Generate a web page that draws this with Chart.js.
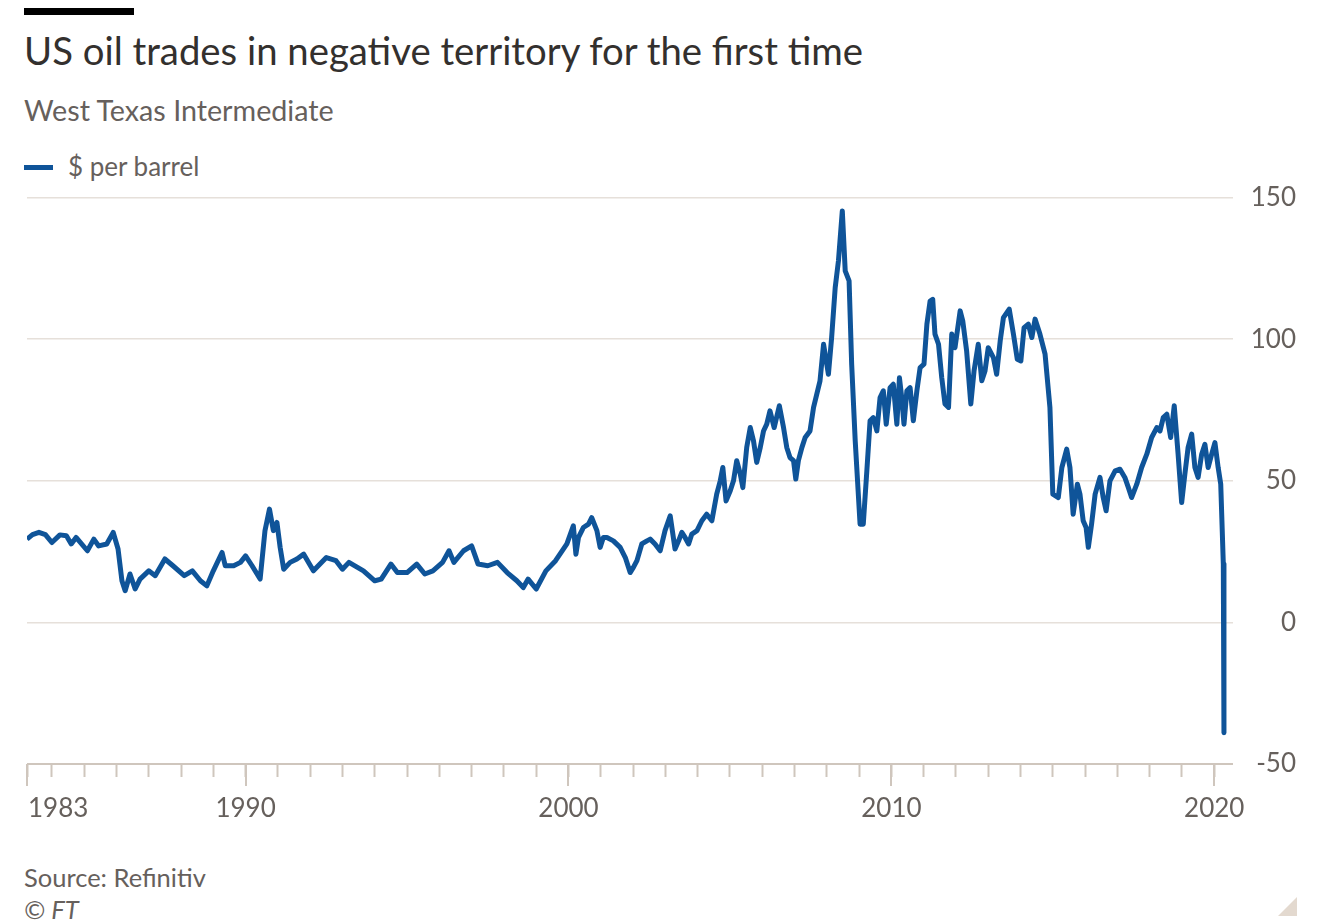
<!DOCTYPE html>
<html>
<head>
<meta charset="utf-8">
<title>US oil trades in negative territory for the first time</title>
<script src="https://cdn.jsdelivr.net/npm/chart.js@4.4.0/dist/chart.umd.min.js"></script>
<style>
  body { margin: 0; background: #fff; width: 1336px; height: 921px; overflow: hidden; position: relative; font-family: Lato, sans-serif; }
  .bar { position: absolute; left: 24px; top: 8px; width: 110px; height: 7px; background: #000; }
  .title { position: absolute; left: 24px; top: 31px; font-size: 38.3px; line-height: 38.3px; color: #33302e; white-space: nowrap; }
  .subtitle { position: absolute; left: 24px; top: 96px; font-size: 28.7px; line-height: 28.7px; color: #66605c; white-space: nowrap; }
  .swatch { position: absolute; left: 24px; top: 165px; width: 29px; height: 5px; background: #0f5499; }
  .legend { position: absolute; left: 68px; top: 153px; font-size: 26px; line-height: 26px; color: #66605c; white-space: nowrap; }
  .source { position: absolute; left: 24px; top: 865px; font-size: 25.5px; line-height: 25.5px; color: #66605c; white-space: nowrap; }
  .copy { position: absolute; left: 24px; top: 897px; font-size: 25.5px; line-height: 25.5px; color: #66605c; font-style: italic; }
  .grip { position: absolute; left: 1278px; top: 897px; width: 0; height: 0; border-left: 19px solid transparent; border-bottom: 19px solid #e3d9cf; }
  #wrap { position: absolute; left: 0; top: 164px; width: 1336px; height: 676px; }
  #wrap canvas { display: block; }
</style>
</head>
<body>
<div class="bar"></div>
<div class="title">US oil trades in negative territory for the first time</div>
<div class="subtitle">West Texas Intermediate</div>
<div class="swatch"></div>
<div class="legend">$ per barrel</div>
<div id="wrap"><canvas id="oilChart" width="1336" height="676"></canvas></div>
<div class="source">Source: Refinitiv</div>
<div class="copy">© FT</div>
<div class="grip"></div>

<script>
// WTI, $ per barrel (decimal years)
const dates = [
  1983.23, 1983.4, 1983.6, 1983.8, 1984.0, 1984.25, 1984.45, 1984.6, 1984.75, 1985.1,
  1985.3, 1985.45, 1985.7, 1985.9, 1986.05, 1986.17, 1986.27, 1986.42, 1986.58, 1986.73,
  1987.0, 1987.2, 1987.5, 1987.75, 1988.1, 1988.35, 1988.6, 1988.8, 1989.0, 1989.27,
  1989.37, 1989.63, 1989.84, 1990.0, 1990.2, 1990.45, 1990.6, 1990.74, 1990.86, 1990.97,
  1991.07, 1991.18, 1991.38, 1991.59, 1991.8, 1992.1, 1992.5, 1992.8, 1993.0, 1993.2,
  1993.65, 1994.0, 1994.2, 1994.5, 1994.7, 1995.0, 1995.3, 1995.55, 1995.8, 1996.1,
  1996.3, 1996.45, 1996.75, 1997.0, 1997.2, 1997.5, 1997.8, 1998.1, 1998.4, 1998.6,
  1998.75, 1999.0, 1999.3, 1999.6, 1999.95, 2000.15, 2000.23, 2000.31, 2000.46, 2000.62,
  2000.72, 2000.88, 2000.98, 2001.08, 2001.19, 2001.39, 2001.6, 2001.76, 2001.91, 2002.01,
  2002.12, 2002.27, 2002.43, 2002.53, 2002.68, 2002.84, 2002.99, 2003.15, 2003.3, 2003.41,
  2003.51, 2003.61, 2003.72, 2003.82, 2003.98, 2004.13, 2004.28, 2004.44, 2004.59, 2004.7,
  2004.78, 2004.88, 2005.01, 2005.11, 2005.21, 2005.32, 2005.4, 2005.52, 2005.63, 2005.73,
  2005.83, 2005.94, 2006.04, 2006.14, 2006.24, 2006.37, 2006.53, 2006.66, 2006.76, 2006.86,
  2006.97, 2007.04, 2007.12, 2007.23, 2007.33, 2007.48, 2007.59, 2007.69, 2007.79, 2007.9,
  2008.05, 2008.15, 2008.26, 2008.36, 2008.48, 2008.57, 2008.69, 2008.77, 2008.88, 2009.03,
  2009.13, 2009.24, 2009.34, 2009.44, 2009.55, 2009.65, 2009.75, 2009.84, 2009.96, 2010.06,
  2010.17, 2010.25, 2010.32, 2010.39, 2010.48, 2010.58, 2010.68, 2010.79, 2010.89, 2011.01,
  2011.1, 2011.2, 2011.28, 2011.35, 2011.46, 2011.56, 2011.66, 2011.77, 2011.87, 2011.97,
  2012.13, 2012.21, 2012.33, 2012.46, 2012.56, 2012.69, 2012.8, 2012.9, 2013.0, 2013.16,
  2013.26, 2013.37, 2013.47, 2013.65, 2013.78, 2013.9, 2014.01, 2014.11, 2014.24, 2014.35,
  2014.45, 2014.6, 2014.76, 2014.91, 2015.0, 2015.17, 2015.28, 2015.43, 2015.53, 2015.63,
  2015.76, 2015.84, 2015.94, 2016.03, 2016.1, 2016.2, 2016.31, 2016.46, 2016.56, 2016.65,
  2016.77, 2016.93, 2017.08, 2017.23, 2017.34, 2017.44, 2017.6, 2017.75, 2017.91, 2018.06,
  2018.22, 2018.32, 2018.42, 2018.53, 2018.65, 2018.76, 2018.88, 2018.99, 2019.09, 2019.19,
  2019.3, 2019.4, 2019.5, 2019.61, 2019.71, 2019.81, 2019.92, 2020.02, 2020.12, 2020.2,
  2020.26, 2020.28, 2020.3
];
const prices = [
  29.4, 31.0, 31.8, 31.0, 28.2, 30.9, 30.6, 27.7, 30.0, 25.3,
  29.4, 27.0, 27.7, 31.8, 25.9, 14.7, 11.2, 17.1, 11.8, 15.3,
  18.2, 16.5, 22.4, 20.0, 16.5, 18.2, 14.7, 12.9, 18.2, 24.7,
  20.0, 20.0, 21.2, 23.5, 20.0, 15.3, 32.4, 40.0, 32.4, 35.3,
  26.5, 18.8, 21.2, 22.4, 24.1, 18.2, 22.9, 21.8, 18.8, 21.2,
  18.2, 14.7, 15.3, 20.6, 17.6, 17.6, 20.6, 17.1, 18.2, 21.2,
  25.3, 21.2, 25.3, 27.0, 20.6, 20.0, 21.2, 17.6, 14.7, 12.3,
  15.3, 11.8, 18.2, 21.8, 27.7, 34.1, 24.1, 30.0, 33.5, 34.7,
  37.0, 32.4, 26.5, 30.0, 30.0, 28.8, 26.5, 22.9, 17.6, 19.4,
  21.8, 27.7, 28.8, 29.4, 27.7, 25.3, 32.4, 37.6, 25.9, 28.8,
  31.8, 30.0, 27.7, 31.2, 32.4, 35.9, 38.2, 35.9, 45.3, 50.0,
  54.7, 42.9, 46.5, 50.0, 57.1, 52.4, 47.6, 61.8, 68.8, 64.1,
  56.5, 61.8, 67.6, 70.0, 74.7, 68.8, 76.5, 68.8, 61.8, 58.2,
  57.1, 50.6, 57.1, 61.8, 65.3, 67.6, 75.9, 80.6, 85.3, 98.2,
  87.6, 100.6, 118.2, 127.6, 145.3, 124.1, 120.6, 91.2, 64.1, 34.7,
  34.7, 53.5, 71.2, 72.3, 67.6, 79.4, 81.8, 70.0, 82.9, 84.1,
  70.0, 86.4, 79.4, 70.0, 81.8, 82.9, 71.2, 81.8, 90.0, 91.2,
  105.3, 113.5, 114.1, 101.8, 98.2, 86.4, 77.1, 75.9, 101.8, 97.0,
  110.0, 106.5, 95.9, 77.1, 88.8, 98.2, 85.3, 88.8, 97.0, 93.5,
  87.6, 99.4, 107.6, 110.6, 101.8, 92.9, 92.3, 104.1, 105.3, 100.6,
  107.1, 101.8, 94.7, 75.9, 45.3, 44.1, 54.7, 61.2, 54.7, 38.2,
  48.8, 45.3, 35.9, 33.5, 26.5, 34.7, 45.3, 51.2, 44.1, 39.4,
  50.0, 53.5, 54.1, 51.2, 47.6, 44.1, 48.8, 54.7, 59.4, 65.3,
  68.8, 67.6, 72.3, 73.5, 65.3, 76.5, 59.4, 42.3, 52.4, 61.8,
  66.5, 54.7, 51.2, 59.4, 62.9, 54.7, 59.4, 63.5, 54.7, 48.8,
  27.7, 20.6, -39.0
];

const priceTicks = [-50, 0, 50, 100, 150];
const labelYears = [1990, 2000, 2010, 2020];
const firstLabel = "1983";
const xMin = 1983.23;
const xMax = 2020.58;

const blue = "#0f5499";
const grey = "#66605c";
const gridColor = "#e6e0da";
const axisColor = "#cfc6bd";
const labelFont = { family: "Lato", size: 26 };
const tickLen = 13;
const tickPad = 16;

// one tick per year, plus the start of the axis
const yearTicks = [xMin];
for (let y = 1984; y <= 2020; y++) yearTicks.push(y);

// longer ticks at the labelled years, and the left-aligned first label
const axisExtras = {
  id: "axisExtras",
  afterDraw(chart) {
    const { ctx } = chart;
    const x = chart.scales.x;
    const top = x.top;
    ctx.save();
    ctx.strokeStyle = axisColor;
    ctx.lineWidth = 2;
    [xMin, ...labelYears].forEach((v) => {
      const px = Math.round(x.getPixelForValue(v));
      ctx.beginPath();
      ctx.moveTo(px, top);
      ctx.lineTo(px, top + 22);
      ctx.stroke();
    });
    ctx.fillStyle = grey;
    ctx.font = `${labelFont.size}px ${labelFont.family}`;
    ctx.textAlign = "left";
    ctx.textBaseline = "middle";
    ctx.fillText(firstLabel, x.getPixelForValue(xMin) + 1, top + tickLen + tickPad + labelFont.size * 0.6);
    ctx.restore();
  },
};

const ctx = document.getElementById("oilChart").getContext("2d");
new Chart(ctx, {
  type: "line",
  data: {
    datasets: [{
      label: "$ per barrel",
      data: dates.map((d, i) => ({ x: d, y: prices[i] })),
      borderColor: blue,
      borderWidth: 5,
      borderJoinStyle: "round",
      pointRadius: 0,
      tension: 0,
      fill: false,
    }],
  },
  options: {
    responsive: false,
    animation: false,
    layout: { padding: { left: 27, top: 1, right: 40, bottom: 0 } },
    plugins: {
      legend: { display: false },
      tooltip: { enabled: false },
    },
    scales: {
      x: {
        type: "linear",
        min: xMin,
        max: xMax,
        afterBuildTicks: (scale) => {
          scale.ticks = yearTicks.map((v) => ({ value: v }));
        },
        afterFit: (scale) => { scale.height = 76; },
        grid: { drawOnChartArea: false, drawTicks: true, tickLength: tickLen, tickColor: axisColor, tickWidth: 2 },
        border: { display: false },
        ticks: {
          autoSkip: false,
          maxRotation: 0,
          padding: tickPad,
          color: grey,
          font: labelFont,
          callback: (value) => (labelYears.includes(value) ? String(value) : ""),
        },
      },
      y: {
        position: "right",
        min: -50,
        max: 150,
        afterBuildTicks: (scale) => {
          scale.ticks = priceTicks.map((v) => ({ value: v }));
        },
        afterFit: (scale) => { scale.width = 63; },
        grid: {
          drawTicks: false,
          color: (c) => (c.tick && c.tick.value === -50 ? axisColor : gridColor),
          lineWidth: (c) => (c.tick && c.tick.value === -50 ? 2 : 1.5),
        },
        border: { display: false },
        ticks: {
          crossAlign: "far",
          padding: 18,
          color: grey,
          font: labelFont,
        },
      },
    },
  },
  plugins: [axisExtras],
});
</script>
</body>
</html>
